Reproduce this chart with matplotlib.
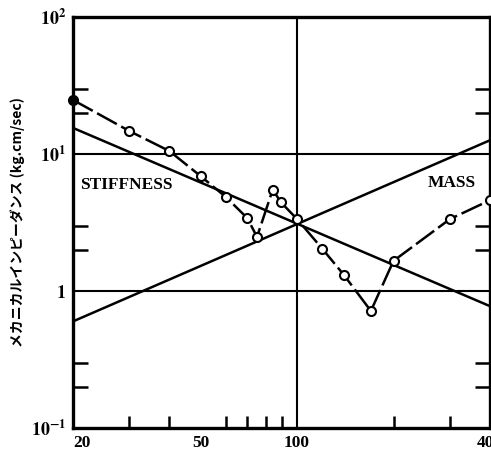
import numpy as np
import matplotlib
matplotlib.use("Agg")
import matplotlib.pyplot as plt
from matplotlib.ticker import FixedLocator, NullFormatter

# measured impedance (frequency Hz, kg.cm/sec)
freq = [20, 30, 40, 50, 60, 70, 75, 84, 89, 100, 120, 140, 170, 200, 300, 400]
imped = [24.8, 14.7, 10.5, 6.9, 4.85, 3.4, 2.48, 5.5, 4.45, 3.35, 2.03, 1.31, 0.715, 1.66, 3.35, 4.6]

# theoretical lines (end points)
line_f = [20, 400]
stiffness = [15.5, 0.775]
mass = [0.6, 12.6]

x_ticks = [20, 50, 100, 400]
x_labels = ["20", "50", "100", "400"]
x_minor = [30, 40, 60, 70, 80, 90, 200, 300]
y_ticks = [0.1, 1, 10, 100]
y_labels = [r"$\mathbf{10^{-1}}$", r"$\mathbf{1}$", r"$\mathbf{10^{1}}$", r"$\mathbf{10^{2}}$"]
y_minor = [0.2, 0.3, 2, 3, 20, 30]

plt.rcParams["mathtext.fontset"] = "stix"
serif = "Liberation Serif"

fig = plt.figure(figsize=(4.91, 4.54), dpi=100)
ax = fig.add_axes([73 / 491, 26 / 454, 417 / 491, 411 / 454])
ax.set_xscale("log")
ax.set_yscale("log")
ax.set_xlim(20, 400)
ax.set_ylim(0.1, 100)

# grid lines
ax.axhline(10, color="black", lw=1.5, zorder=1)
ax.axhline(1, color="black", lw=1.5, zorder=1)
ax.axvline(100, color="black", lw=1.5, zorder=1)

ax.plot(line_f, stiffness, color="black", lw=1.8, zorder=2)
ax.plot(line_f, mass, color="black", lw=1.8, zorder=2)
ax.plot(freq, imped, color="black", lw=1.8, ls=(0, (9, 2)), marker="o", ms=6.5,
        mfc="white", mec="black", mew=1.5, zorder=3, clip_on=False)
ax.plot(freq[:1], imped[:1], "o", color="black", ms=6, zorder=4, clip_on=False)

ax.text(21.0, 5.9, "STIFFNESS", fontfamily=serif, fontweight="bold", fontsize=12.5, va="center")
ax.text(255, 6.1, "MASS", fontfamily=serif, fontweight="bold", fontsize=12.5, va="center")

ax.xaxis.set_major_locator(FixedLocator(x_ticks))
ax.xaxis.set_minor_locator(FixedLocator(x_minor))
ax.set_xticklabels(x_labels, fontfamily=serif, fontweight="bold", fontsize=12.5)
ax.get_xticklabels()[0].set_horizontalalignment("left")
ax.xaxis.set_minor_formatter(NullFormatter())
ax.yaxis.set_major_locator(FixedLocator(y_ticks))
ax.yaxis.set_minor_locator(FixedLocator(y_minor))
ax.set_yticklabels(y_labels, fontsize=13)
ax.yaxis.set_minor_formatter(NullFormatter())

ax.tick_params(which="both", direction="in", width=1.8, top=False, right=True)
ax.tick_params(which="major", length=0, pad=5)
ax.tick_params(axis="x", which="minor", length=9)
ax.tick_params(axis="y", which="minor", length=11)
for s in ax.spines.values():
    s.set_linewidth(2.4)

fig.text(0.036, 0.51, "メカニカルインピーダンス (kg.cm/sec)", rotation=90, va="center", ha="center",
         fontsize=10, fontweight="bold", family=["Noto Sans CJK JP", "DejaVu Sans"])

fig.savefig("out.png", dpi=100)
